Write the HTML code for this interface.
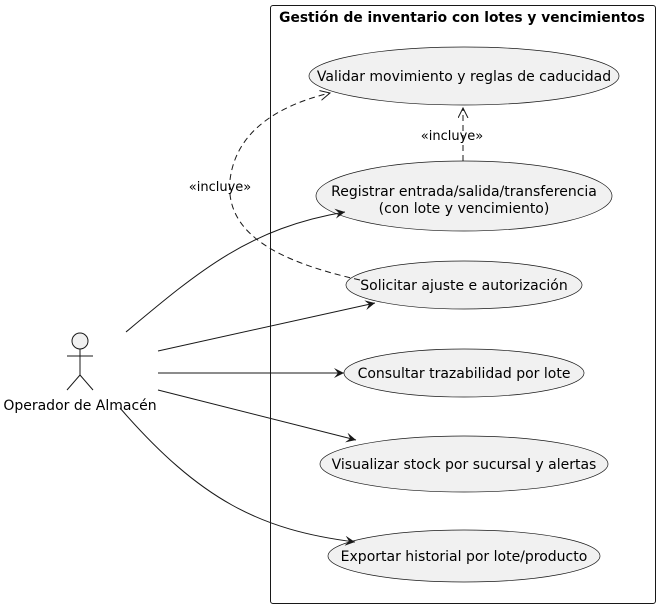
<!DOCTYPE html>
<html><head><meta charset="utf-8"><style>
html,body{margin:0;padding:0;background:#fff;}
svg{display:block;font-family:"DejaVu Sans","Liberation Sans",sans-serif;}
</style></head><body>
<svg width="660" height="608" viewBox="0 0 660 608" xmlns="http://www.w3.org/2000/svg">
<defs>
<marker id="a" markerWidth="12" markerHeight="10" refX="10" refY="5" orient="auto" markerUnits="userSpaceOnUse">
<path d="M0,0 L10,5 L0,10 L4,5 Z" fill="#181818"/>
</marker>
<marker id="o" markerWidth="12" markerHeight="12" refX="10" refY="5" orient="auto" markerUnits="userSpaceOnUse">
<path d="M0,0 L10,5 L0,10" fill="none" stroke="#181818" stroke-width="1"/>
</marker>
</defs>
<rect x="270.5" y="5.5" width="385" height="598" rx="2.5" fill="#fff" stroke="#181818"/>
<text x="462" y="22" text-anchor="middle" font-size="13.8" font-weight="bold">Gestión de inventario con lotes y vencimientos</text>
<g fill="#f1f1f1" stroke="#181818" stroke-width="0.7">
<ellipse cx="464" cy="76" rx="155" ry="29"/>
<ellipse cx="464" cy="196" rx="148" ry="35"/>
<ellipse cx="464" cy="285" rx="118" ry="24"/>
<ellipse cx="464" cy="373" rx="120" ry="24"/>
<ellipse cx="464" cy="464" rx="144" ry="28"/>
<ellipse cx="464" cy="556" rx="136" ry="26"/>
</g>
<g font-size="14" text-anchor="middle" fill="#000">
<text x="464" y="81">Validar movimiento y reglas de caducidad</text>
<text x="464" y="196">Registrar entrada/salida/transferencia</text>
<text x="464" y="213">(con lote y vencimiento)</text>
<text x="464" y="290">Solicitar ajuste e autorización</text>
<text x="464" y="378">Consultar trazabilidad por lote</text>
<text x="464" y="469">Visualizar stock por sucursal y alertas</text>
<text x="464" y="561">Exportar historial por lote/producto</text>
</g>
<g stroke="#181818" fill="none" stroke-width="1">
<circle cx="80" cy="341" r="8" fill="#f1f1f1"/>
<line x1="80" y1="349" x2="80" y2="375"/>
<line x1="67" y1="356" x2="93" y2="356"/>
<line x1="80" y1="375" x2="67" y2="390"/>
<line x1="80" y1="375" x2="93" y2="390"/>
</g>
<text x="80" y="410" text-anchor="middle" font-size="14">Operador de Almacén</text>
<g stroke="#181818" fill="none" stroke-width="1">
<path d="M126,332 C200,270 250,228 345,212" marker-end="url(#a)"/>
<path d="M158,351 L375,303" marker-end="url(#a)"/>
<path d="M158,373 L344,373" marker-end="url(#a)"/>
<path d="M158,390 L356,440" marker-end="url(#a)"/>
<path d="M120,408 C200,500 260,530 355,542" marker-end="url(#a)"/>
<path d="M463,161 L463,108" stroke-dasharray="6,4" marker-end="url(#o)"/>
<path d="M360,280 C270,260 225,230 230,180 C236,130 280,105 330,93" stroke-dasharray="6,4" marker-end="url(#o)"/>
</g>
<g font-size="13" text-anchor="middle">
<text x="452" y="140">«incluye»</text>
<text x="220" y="191">«incluye»</text>
</g>
</svg>
</body></html>
